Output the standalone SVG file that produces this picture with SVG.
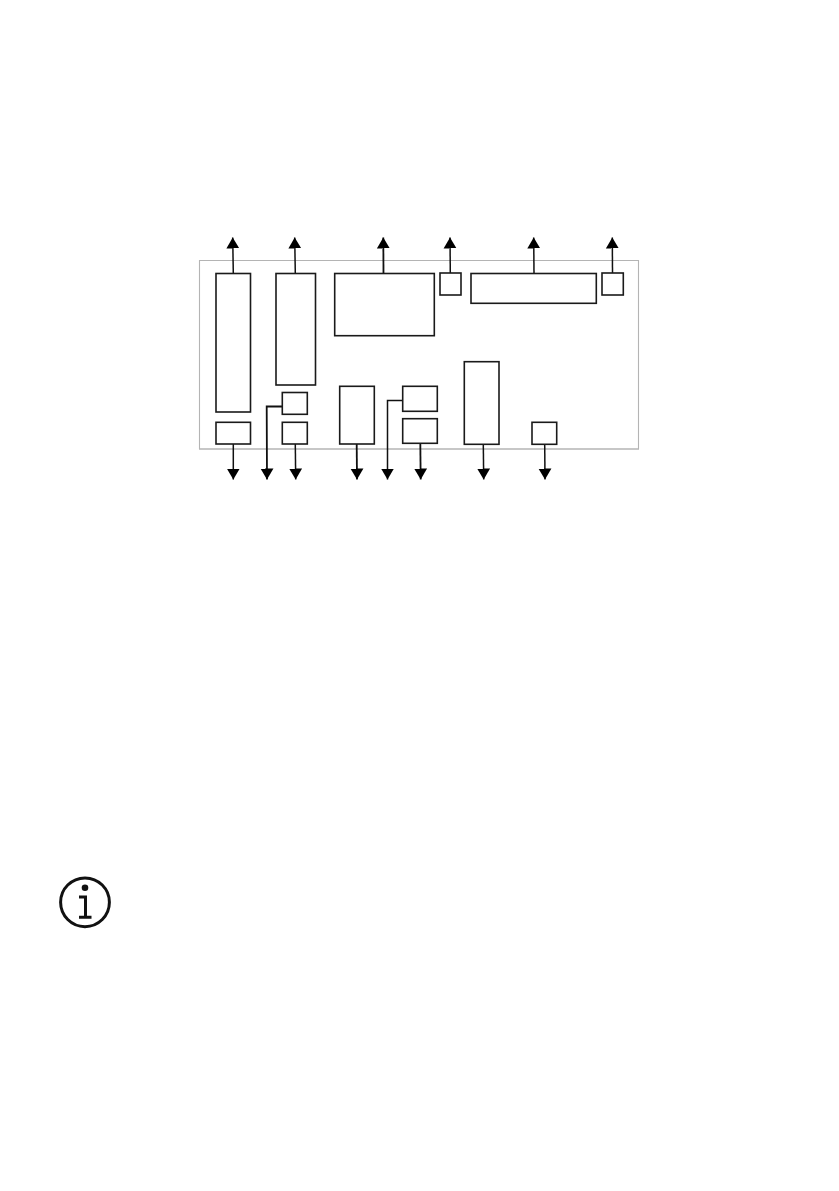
<svg xmlns="http://www.w3.org/2000/svg" width="839" height="1191" viewBox="0 0 839 1191">
<style>
.b{fill:none;stroke:#1a1a1a;stroke-width:1.6}
.c{fill:none;stroke:#111;stroke-width:1.5}
.i{fill:none;stroke:#111;stroke-width:3}
</style>
<defs>
<marker id="a" markerUnits="userSpaceOnUse" markerWidth="11" markerHeight="14" refX="11" refY="7" orient="auto"><path d="M0 0.5L11 7L0 13.5Z" fill="#000"/></marker>
</defs>
<rect width="839" height="1191" fill="#fff"/>
<g id="frame" fill="none" stroke="#b4b4b4">
<path stroke-width="1.1" d="M199.5 449V260.5H638.5V449"/>
<path stroke-width="1.6" d="M199 449H639"/>
</g>
<g id="connectors">
<path class="c" marker-end="url(#a)" d="M233.3 273L232.7 237.5"/>
<path class="c" marker-end="url(#a)" d="M295.3 273L294.7 237.5"/>
<path class="c" style="stroke-width:1.8" marker-end="url(#a)" d="M383.5 273L383.3 237.5"/>
<path class="c" marker-end="url(#a)" d="M450.3 273L450 237.5"/>
<path class="c" marker-end="url(#a)" d="M534 273L533.7 237.5"/>
<path class="c" marker-end="url(#a)" d="M612.5 273L612.3 237.5"/>
<path class="c" marker-end="url(#a)" d="M233.3 444L233.3 479.5"/>
<path class="c" style="stroke-width:1.8" marker-end="url(#a)" d="M282.3 406.5H266.7L267 479.5"/>
<path class="c" marker-end="url(#a)" d="M295.3 444L295.7 479.5"/>
<path class="c" style="stroke-width:1.8" marker-end="url(#a)" d="M356.7 444L357 479.5"/>
<path class="c" marker-end="url(#a)" d="M402.7 400.5H387.5V479.5"/>
<path class="c" style="stroke-width:1.8" marker-end="url(#a)" d="M420.3 443L420.7 479.5"/>
<path class="c" marker-end="url(#a)" d="M483.3 444L483.7 479.5"/>
<path class="c" marker-end="url(#a)" d="M544.7 444L545 479.5"/>
</g>
<g id="n1"><rect class="b" x="216" y="273.5" width="34.5" height="138.5"/></g>
<g id="n2"><rect class="b" x="276" y="273.5" width="39.5" height="111.5"/></g>
<g id="n3"><rect class="b" x="334.7" y="273.5" width="99.6" height="62.2"/></g>
<g id="n4"><rect class="b" x="440" y="273" width="21" height="22"/></g>
<g id="n5"><rect class="b" x="471" y="273.5" width="125.3" height="29.8"/></g>
<g id="n6"><rect class="b" x="602" y="273" width="21.3" height="22"/></g>
<g id="n7"><rect class="b" x="216" y="422.3" width="34.5" height="21.7"/></g>
<g id="n8"><rect class="b" x="282.3" y="392.5" width="25" height="21.8"/></g>
<g id="n9"><rect class="b" x="282.3" y="422.3" width="25" height="21.7"/></g>
<g id="n10"><rect class="b" x="339.7" y="386.3" width="34.6" height="57.7"/></g>
<g id="n11"><rect class="b" x="402.7" y="386.3" width="34.6" height="25"/></g>
<g id="n12"><rect class="b" x="402.7" y="418.7" width="34.6" height="24.6"/></g>
<g id="n13"><rect class="b" x="464.3" y="361.7" width="34.7" height="82.6"/></g>
<g id="n14"><rect class="b" x="532" y="422.3" width="24.7" height="22"/></g>
<g id="info">
<circle class="i" cx="85" cy="902.3" r="24.4"/>
<circle cx="85" cy="887.8" r="3.3" fill="#111"/>
<path class="i" d="M79 897H85.5V917M79 917.3H91.5"/>
</g>
</svg>
